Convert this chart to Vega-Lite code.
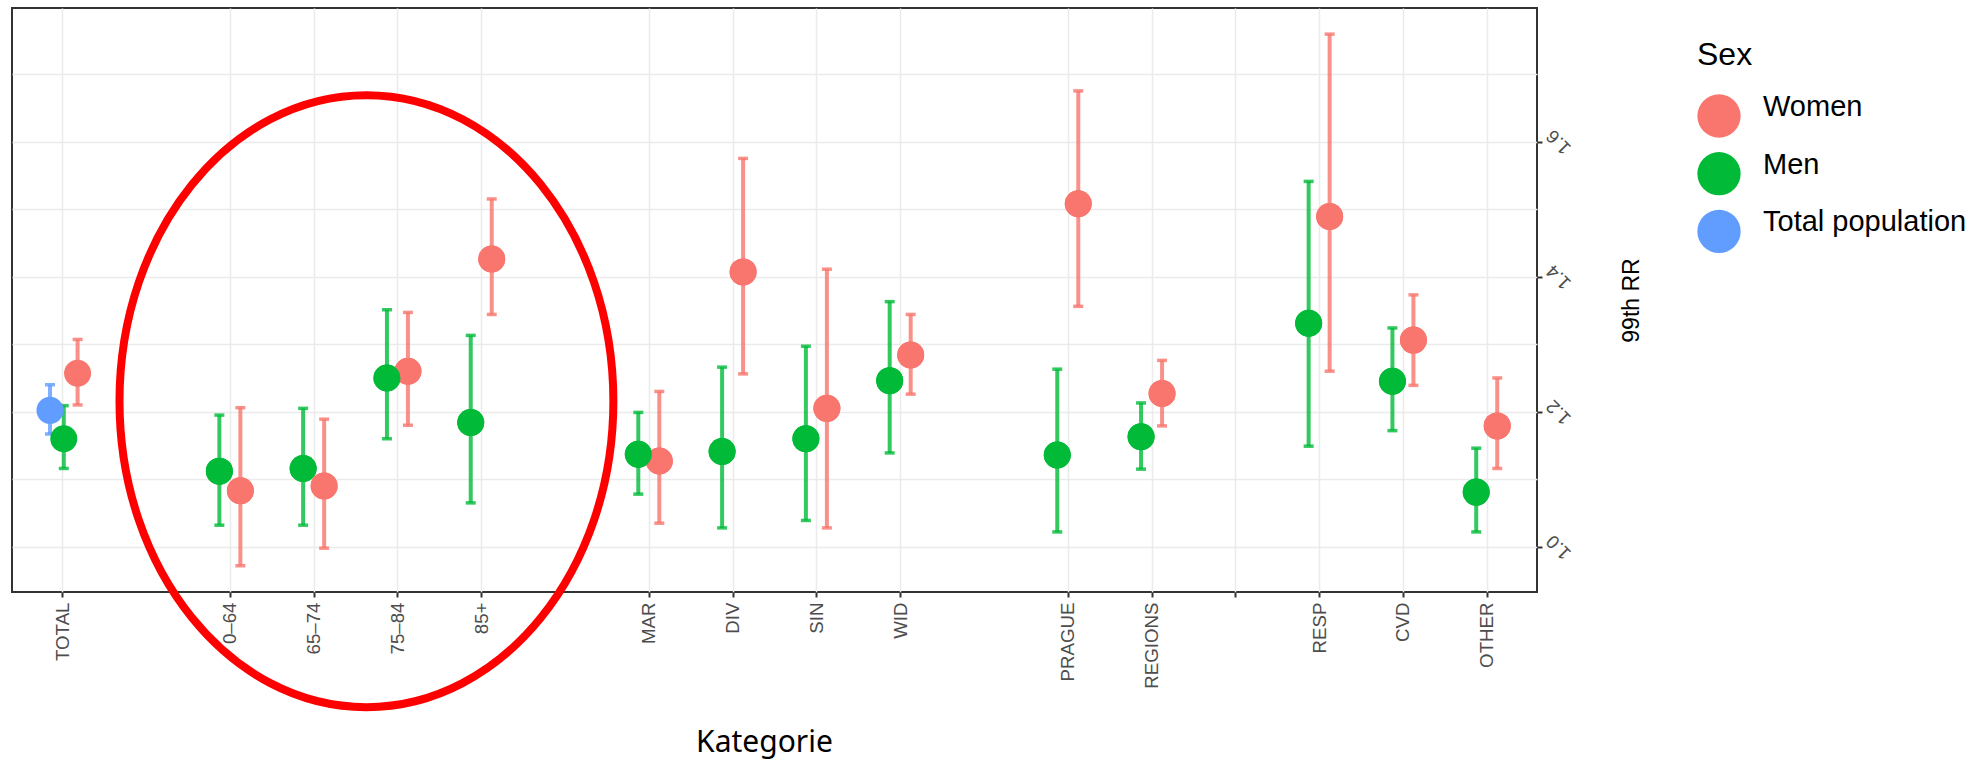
{
  "$schema": "https://vega.github.io/schema/vega-lite/v6.json",
  "width": 1525,
  "height": 584,
  "autosize": "none",
  "padding": {"left": 12, "top": 8, "right": 445, "bottom": 169},
  "background": "white",
  "config": {
    "font": "Liberation Sans",
    "view": {"stroke": "#333333", "strokeWidth": 2}
  },
  "data": {
    "values": [
      {"kategorie": "TOTAL", "sex": "Women", "rr": 1.257, "lo": 1.210, "hi": 1.307},
      {"kategorie": "TOTAL", "sex": "Men", "rr": 1.160, "lo": 1.116, "hi": 1.209},
      {"kategorie": "TOTAL", "sex": "Total population", "rr": 1.202, "lo": 1.167, "hi": 1.240},
      {"kategorie": "0–64", "sex": "Women", "rr": 1.083, "lo": 0.972, "hi": 1.206},
      {"kategorie": "0–64", "sex": "Men", "rr": 1.112, "lo": 1.032, "hi": 1.195},
      {"kategorie": "65–74", "sex": "Women", "rr": 1.090, "lo": 0.998, "hi": 1.189},
      {"kategorie": "65–74", "sex": "Men", "rr": 1.116, "lo": 1.032, "hi": 1.205},
      {"kategorie": "75–84", "sex": "Women", "rr": 1.260, "lo": 1.180, "hi": 1.347},
      {"kategorie": "75–84", "sex": "Men", "rr": 1.250, "lo": 1.160, "hi": 1.351},
      {"kategorie": "85+", "sex": "Women", "rr": 1.426, "lo": 1.344, "hi": 1.515},
      {"kategorie": "85+", "sex": "Men", "rr": 1.184, "lo": 1.065, "hi": 1.313},
      {"kategorie": "MAR", "sex": "Women", "rr": 1.127, "lo": 1.035, "hi": 1.230},
      {"kategorie": "MAR", "sex": "Men", "rr": 1.137, "lo": 1.078, "hi": 1.199},
      {"kategorie": "DIV", "sex": "Women", "rr": 1.407, "lo": 1.256, "hi": 1.575},
      {"kategorie": "DIV", "sex": "Men", "rr": 1.141, "lo": 1.028, "hi": 1.266},
      {"kategorie": "SIN", "sex": "Women", "rr": 1.205, "lo": 1.028, "hi": 1.411},
      {"kategorie": "SIN", "sex": "Men", "rr": 1.160, "lo": 1.039, "hi": 1.297},
      {"kategorie": "WID", "sex": "Women", "rr": 1.284, "lo": 1.226, "hi": 1.344},
      {"kategorie": "WID", "sex": "Men", "rr": 1.246, "lo": 1.139, "hi": 1.363},
      {"kategorie": "PRAGUE", "sex": "Women", "rr": 1.508, "lo": 1.356, "hi": 1.675},
      {"kategorie": "PRAGUE", "sex": "Men", "rr": 1.136, "lo": 1.022, "hi": 1.263},
      {"kategorie": "REGIONS", "sex": "Women", "rr": 1.227, "lo": 1.179, "hi": 1.276},
      {"kategorie": "REGIONS", "sex": "Men", "rr": 1.163, "lo": 1.115, "hi": 1.213},
      {"kategorie": "RESP", "sex": "Women", "rr": 1.489, "lo": 1.260, "hi": 1.759},
      {"kategorie": "RESP", "sex": "Men", "rr": 1.331, "lo": 1.149, "hi": 1.541},
      {"kategorie": "CVD", "sex": "Women", "rr": 1.306, "lo": 1.239, "hi": 1.373},
      {"kategorie": "CVD", "sex": "Men", "rr": 1.245, "lo": 1.172, "hi": 1.324},
      {"kategorie": "OTHER", "sex": "Women", "rr": 1.179, "lo": 1.116, "hi": 1.250},
      {"kategorie": "OTHER", "sex": "Men", "rr": 1.081, "lo": 1.022, "hi": 1.146}
    ]
  },
  "encoding": {
    "x": {
      "field": "kategorie", "type": "nominal",
      "scale": {"type": "point", "padding": 0.6, "domain": ["TOTAL", "b1", "0–64", "65–74", "75–84", "85+", "b6", "MAR", "DIV", "SIN", "WID", "b11", "PRAGUE", "REGIONS", "b14", "RESP", "CVD", "OTHER"]},
      "axis": {
        "values": ["TOTAL", "0–64", "65–74", "75–84", "85+", "MAR", "DIV", "SIN", "WID", "PRAGUE", "REGIONS", "b14", "RESP", "CVD", "OTHER"],
        "labelExpr": "indexof(datum.label, 'b') === 0 ? '' : datum.label",
        "labelAngle": 270, "labelAlign": "right", "labelBaseline": "middle",
        "labelFontSize": 18.7, "labelColor": "#4D4D4D", "labelPadding": 5, "labelOverlap": false,
        "tickSize": 5, "tickColor": "#333333", "tickWidth": 2,
        "domain": false, "grid": true, "gridColor": "#EBEBEB", "gridWidth": 1.5,
        "title": "Kategorie", "titleFont": "Noto Sans", "titleFontSize": 30, "titleFontWeight": "normal",
        "titleColor": "#000000", "titleX": 752, "titleY": 159, "titleBaseline": "alphabetic", "titleAlign": "center"
      }
    },
    "y": {
      "field": "lo", "type": "quantitative",
      "scale": {"domain": [0.9331, 1.7977], "nice": false, "zero": false},
      "axis": {
        "orient": "right",
        "values": [1.0, 1.1, 1.2, 1.3, 1.4, 1.5, 1.6, 1.7],
        "labelExpr": "round(datum.value*10) % 2 === 0 ? format(datum.value, '.1f') : ''",
        "labelAngle": -135, "labelAlign": "center", "labelBaseline": "middle",
        "labelPadding": 16, "labelFontSize": 18.7, "labelColor": "#4D4D4D",
        "labelOverlap": false, "labelFlush": false,
        "tickSize": 5, "tickColor": "#333333", "tickWidth": 2,
        "tickOpacity": {"condition": {"test": "round(datum.value*10) % 2 === 0", "value": 1}, "value": 0},
        "domain": false, "grid": true, "gridColor": "#EBEBEB", "gridWidth": 1.5,
        "title": "99th RR", "titleAngle": 270, "titleFontSize": 23, "titleFontWeight": "normal",
        "titleColor": "#000000", "titleX": 94, "titleY": 292, "titleAlign": "center", "titleBaseline": "middle"
      }
    },
    "color": {
      "field": "sex", "type": "nominal",
      "scale": {"domain": ["Women", "Men", "Total population"], "range": ["#F8766D", "#00BA38", "#619CFF"]},
      "legend": {
        "title": "Sex", "orient": "none", "legendX": 1685, "legendY": 32, "padding": 0,
        "titleFontSize": 32, "titleFontWeight": "normal", "titleColor": "#000000", "titlePadding": 22,
        "labelFontSize": 29, "labelColor": "#000000", "labelBaseline": "alphabetic", "labelOffset": 22, "labelLimit": 600,
        "symbolType": "circle", "symbolSize": 1875, "symbolStrokeWidth": 0, "symbolOpacity": 1,
        "rowPadding": 12.7
      }
    }
  },
  "layer": [
    {
      "transform": [{"filter": "datum.kategorie !== 'TOTAL'"}],
      "mark": {"type": "point", "filled": true, "size": 729, "opacity": 1, "shape": "circle"},
      "encoding": {
        "xOffset": {"field": "sex", "type": "nominal", "scale": {"type": "point", "domain": ["Men", "Women"], "range": [-10.5, 10.5], "padding": 0}},
        "y": {"field": "rr", "type": "quantitative", "scale": {"domain": [0.9331, 1.7977], "nice": false, "zero": false}}
      }
    },
    {
      "transform": [{"filter": "datum.kategorie !== 'TOTAL'"}],
      "mark": {"type": "rule", "strokeWidth": 4, "opacity": 0.8},
      "encoding": {
        "xOffset": {"field": "sex", "type": "nominal", "scale": {"type": "point", "domain": ["Men", "Women"], "range": [-10.5, 10.5], "padding": 0}},
        "y2": {"field": "hi"}
      }
    },
    {
      "transform": [{"filter": "datum.kategorie !== 'TOTAL'"}],
      "mark": {"type": "tick", "size": 10, "thickness": 3.5, "opacity": 0.8},
      "encoding": {
        "xOffset": {"field": "sex", "type": "nominal", "scale": {"type": "point", "domain": ["Men", "Women"], "range": [-10.5, 10.5], "padding": 0}}
      }
    },
    {
      "transform": [{"filter": "datum.kategorie !== 'TOTAL'"}],
      "mark": {"type": "tick", "size": 10, "thickness": 3.5, "opacity": 0.8},
      "encoding": {
        "xOffset": {"field": "sex", "type": "nominal", "scale": {"type": "point", "domain": ["Men", "Women"], "range": [-10.5, 10.5], "padding": 0}},
        "y": {"field": "hi", "type": "quantitative", "scale": {"domain": [0.9331, 1.7977], "nice": false, "zero": false}}
      }
    },
    {
      "transform": [{"filter": "datum.kategorie === 'TOTAL'"}],
      "mark": {"type": "rule", "strokeWidth": 4, "opacity": 0.8},
      "encoding": {
        "xOffset": {"field": "sex", "type": "nominal", "scale": {"type": "point", "domain": ["Total population", "Men", "Women"], "range": [-12.3, 15.3], "padding": 0}},
        "y2": {"field": "hi"}
      }
    },
    {
      "transform": [{"filter": "datum.kategorie === 'TOTAL'"}],
      "mark": {"type": "tick", "size": 10, "thickness": 3.5, "opacity": 0.8},
      "encoding": {
        "xOffset": {"field": "sex", "type": "nominal", "scale": {"type": "point", "domain": ["Total population", "Men", "Women"], "range": [-12.3, 15.3], "padding": 0}}
      }
    },
    {
      "transform": [{"filter": "datum.kategorie === 'TOTAL'"}],
      "mark": {"type": "tick", "size": 10, "thickness": 3.5, "opacity": 0.8},
      "encoding": {
        "xOffset": {"field": "sex", "type": "nominal", "scale": {"type": "point", "domain": ["Total population", "Men", "Women"], "range": [-12.3, 15.3], "padding": 0}},
        "y": {"field": "hi", "type": "quantitative", "scale": {"domain": [0.9331, 1.7977], "nice": false, "zero": false}}
      }
    },
    {
      "transform": [{"filter": "datum.kategorie !== 'TOTAL'"}],
      "mark": {"type": "point", "filled": true, "size": 729, "opacity": 1, "shape": "circle"},
      "encoding": {
        "xOffset": {"field": "sex", "type": "nominal", "scale": {"type": "point", "domain": ["Men", "Women"], "range": [-10.5, 10.5], "padding": 0}},
        "y": {"field": "rr", "type": "quantitative", "scale": {"domain": [0.9331, 1.7977], "nice": false, "zero": false}}
      }
    },
    {
      "transform": [{"filter": "datum.kategorie === 'TOTAL'"}],
      "mark": {"type": "point", "filled": true, "size": 729, "opacity": 1, "shape": "circle"},
      "encoding": {
        "xOffset": {"field": "sex", "type": "nominal", "scale": {"type": "point", "domain": ["Total population", "Men", "Women"], "range": [-12.3, 15.3], "padding": 0}},
        "y": {"field": "rr", "type": "quantitative", "scale": {"domain": [0.9331, 1.7977], "nice": false, "zero": false}}
      }
    },
    {
      "data": {"values": [{"kategorie": "65–74", "shift": 0.63, "level": 1.2156}]},
      "mark": {"type": "point", "filled": false, "opacity": 1, "strokeWidth": 8, "size": 374544,
               "shape": "M -0.807 0 A 0.807 1 0 1 0 0.807 0 A 0.807 1 0 1 0 -0.807 0 Z"},
      "encoding": {
        "color": {"value": "#FF0000"},
        "xOffset": {"field": "shift", "type": "quantitative", "scale": {"domain": [0, 1], "range": [0, 83.79], "nice": false, "zero": false}},
        "y": {"field": "level", "type": "quantitative", "scale": {"domain": [0.9331, 1.7977], "nice": false, "zero": false}}
      }
    }
  ],
  "resolve": {"scale": {"xOffset": "independent"}}
}
